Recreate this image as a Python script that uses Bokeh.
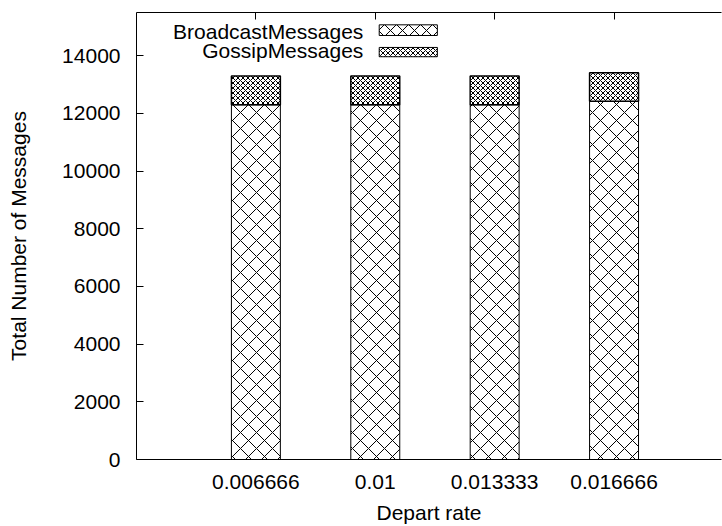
from bokeh.plotting import figure
from bokeh.models import (ColumnDataSource, Range1d, FixedTicker, LinearAxis,
                          Label, BoxAnnotation)
from bokeh.embed import file_html
from bokeh.resources import INLINE

# ---- data ----
categories = ["0.006666", "0.01", "0.013333", "0.016666"]
broadcast = [12300, 12300, 12300, 12420]
gossip = [1000, 1000, 1000, 990]
y_ticks = [0, 2000, 4000, 6000, 8000, 10000, 12000, 14000]
series_names = ["BroadcastMessages", "GossipMessages"]

xs = list(range(1, len(categories) + 1))
totals = [b + g for b, g in zip(broadcast, gossip)]
src = ColumnDataSource(dict(x=xs, b=broadcast, t=totals, zero=[0] * len(xs)))

FONT = "Liberation Sans"
FS = "21px"

p = figure(width=722, height=526,
           x_range=Range1d(0, 4.90), y_range=Range1d(0, 15500),
           output_backend="svg", toolbar_location=None,
           min_border_left=136, min_border_right=1,
           min_border_top=12, min_border_bottom=66)
p.outline_line_color = None
p.xgrid.visible = False
p.ygrid.visible = False
p.background_fill_color = "white"
p.border_fill_color = "white"

BW = 0.41
p.vbar(x="x", bottom="zero", top="b", width=BW, source=src,
       fill_color="white", line_color="black", line_width=1,
       hatch_pattern="x", hatch_scale=16, hatch_color="black", hatch_weight=1)
p.vbar(x="x", bottom="b", top="t", width=BW, source=src,
       fill_color="white", line_color="black", line_width=1.5,
       hatch_pattern="x", hatch_scale=5, hatch_color="black", hatch_weight=1)

# x axis (bottom)
xa = p.xaxis[0]
xa.ticker = FixedTicker(ticks=xs)
xa.major_label_overrides = {x: c for x, c in zip(xs, categories)}
xa.major_tick_in = 0
xa.major_tick_out = 0
xa.minor_tick_in = 0
xa.minor_tick_out = 0
xa.major_label_standoff = 15
xa.axis_label = "Depart rate"
xa.axis_label_standoff = 9
xa.major_label_text_font = FONT
xa.major_label_text_font_size = FS
xa.major_label_text_color = "black"
xa.axis_label_text_font = FONT
xa.axis_label_text_font_size = FS
xa.axis_label_text_font_style = "normal"
xa.axis_label_text_color = "black"
xa.axis_line_color = "black"

# y axis (left)
ya = p.yaxis[0]
ya.ticker = FixedTicker(ticks=y_ticks)
ya.major_tick_in = 7
ya.major_tick_out = 0
ya.minor_tick_in = 0
ya.minor_tick_out = 0
ya.major_label_standoff = 16
ya.axis_label = "Total Number of Messages"
ya.axis_label_standoff = 29
ya.major_label_text_font = FONT
ya.major_label_text_font_size = FS
ya.major_label_text_color = "black"
ya.axis_label_text_font = FONT
ya.axis_label_text_font_size = FS
ya.axis_label_text_font_style = "normal"
ya.axis_label_text_color = "black"
ya.axis_line_color = "black"

# top border with mirrored ticks
ta = LinearAxis(ticker=FixedTicker(ticks=xs), major_tick_in=7, major_tick_out=0,
                minor_tick_in=0, minor_tick_out=0,
                major_label_text_font_size="0px", major_label_standoff=0,
                major_label_text_color=None, axis_line_color="black")
p.add_layout(ta, "above")

# legend (text right-aligned, key on the right)
lx_text = 1.90
key_l, key_r = 2.033, 2.52
rows = [(14830, 14703, 15073, 12), (14174, 13966, 14288, 5)]
for name, (ty, kb, kt, hs) in zip(series_names, rows):
    p.add_layout(Label(x=lx_text, y=ty, text=name, text_align="right",
                       text_baseline="middle", text_font=FONT,
                       text_font_size=FS, text_color="black"))
    p.add_layout(BoxAnnotation(left=key_l, right=key_r, bottom=kb, top=kt,
                               fill_color="white", fill_alpha=1,
                               line_color="black", line_alpha=1, line_width=1,
                               hatch_pattern="x", hatch_scale=hs,
                               hatch_color="black", hatch_weight=1))

open("out.html", "w").write(file_html(p, INLINE))
